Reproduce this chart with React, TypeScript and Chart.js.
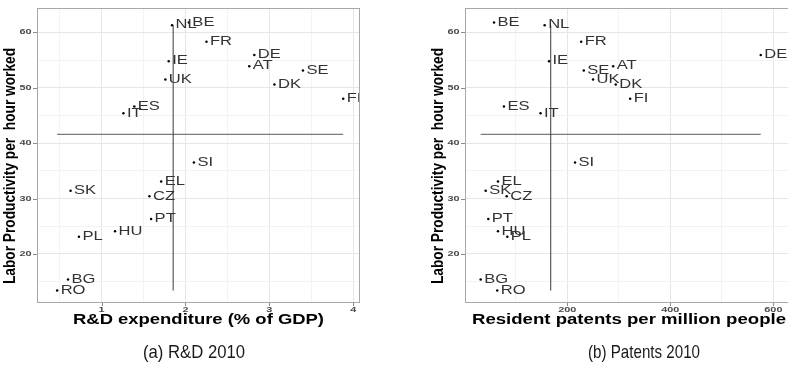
import React, { useEffect, useRef } from "react";
import { Chart, registerables } from "chart.js";

Chart.register(...registerables);

// ---------- data ----------
const countries = ["BE", "NL", "FR", "IE", "UK", "DE", "AT", "SE", "DK", "FI", "ES", "IT", "SI", "EL", "SK", "CZ", "PT", "HU", "PL", "BG", "RO"];
const laborProductivity = [61.8, 61.3, 58.3, 54.8, 51.5, 55.9, 53.9, 53.1, 50.6, 48.0, 46.6, 45.4, 36.5, 33.1, 31.4, 30.4, 26.3, 24.1, 23.1, 15.4, 13.4];
const rdExpenditure = [2.04, 1.84, 2.25, 1.80, 1.76, 2.82, 2.76, 3.40, 3.06, 3.88, 1.39, 1.26, 2.10, 1.71, 0.63, 1.57, 1.59, 1.16, 0.73, 0.60, 0.47];
const residentPatents = [57.7, 156, 227, 164.5, 250, 575.5, 289, 232, 294, 322, 77, 148, 215, 65.4, 41.5, 82.3, 46.6, 65.4, 83.5, 31.8, 64];

const yTickLabels = [20, 30, 40, 50, 60];
const rdTickLabels = [1, 2, 3, 4];
const patentTickLabels = [200, 400, 600];
const yGridValues = [15, 20, 25, 30, 35, 40, 45, 50, 55, 60];
const rdGridValues = [0.5, 1, 1.5, 2, 2.5, 3, 3.5, 4];
const patentGridValues = [100, 200, 300, 400, 500, 600];

const rdAverage = 1.853;
const patentAverage = 167.8;
const productivityAverage = 41.6;
const refLineYSpan = [13.4, 61.3];

const yTitle = "Labor Productivity per  hour worked";
const FONT = '"Liberation Sans", Arial, sans-serif';

type PanelCfg = {
  xValues: number[];
  xMin: number;
  xMax: number;
  xGrid: number[];
  xTicks: number[];
  xAvg: number;
  xTitle: string;
  caption: string;
  canvasLeft: number;
  canvasWidth: number;
  padRight: number;
  yAxisWidth: number;
  xTitleCenter: number;
  xTitleWidth: number;
  yTitleX: number;
  captionCenter: number;
  captionWidth: number;
};

const panels: PanelCfg[] = [
  {
    xValues: rdExpenditure,
    xMin: 0.23,
    xMax: 4.08,
    xGrid: rdGridValues,
    xTicks: rdTickLabels,
    xAvg: rdAverage,
    xTitle: "R&D expenditure (% of GDP)",
    caption: "(a) R&D 2010",
    canvasLeft: 0,
    canvasWidth: 394,
    padRight: 34,
    yAxisWidth: 37,
    xTitleCenter: 198.5,
    xTitleWidth: 251,
    yTitleX: 11,
    captionCenter: 194,
    captionWidth: 102,
  },
  {
    xValues: residentPatents,
    xMin: 1.4,
    xMax: 642,
    xGrid: patentGridValues,
    xTicks: patentTickLabels,
    xAvg: patentAverage,
    xTitle: "Resident patents per million people",
    caption: "(b) Patents 2010",
    canvasLeft: 394,
    canvasWidth: 410,
    padRight: 9,
    yAxisWidth: 71,
    xTitleCenter: 235,
    xTitleWidth: 314,
    yTitleX: 45,
    captionCenter: 250,
    captionWidth: 112,
  },
];

function drawText(
  ctx: CanvasRenderingContext2D,
  text: string,
  x: number,
  y: number,
  font: string,
  color: string,
  align: CanvasTextAlign,
  sx: number,
  sy = 1,
  rotate = 0
) {
  ctx.save();
  ctx.translate(x, y);
  if (rotate) ctx.rotate(rotate);
  ctx.scale(sx, sy);
  ctx.font = font;
  ctx.fillStyle = color;
  ctx.textAlign = align;
  ctx.textBaseline = "middle";
  ctx.fillText(text, 0, 0);
  ctx.restore();
}

function fitScale(ctx: CanvasRenderingContext2D, text: string, font: string, width: number) {
  ctx.save();
  ctx.font = font;
  const w = ctx.measureText(text).width;
  ctx.restore();
  return w > 0 ? width / w : 1;
}

function Panel({ cfg }: { cfg: PanelCfg }) {
  const ref = useRef<HTMLCanvasElement>(null);

  useEffect(() => {
    if (!ref.current) return;
    const points = cfg.xValues.map((x, i) => ({ x, y: laborProductivity[i] }));
    const xLo = Math.min(...cfg.xValues);
    const xHi = Math.max(...cfg.xValues);

    const overlay = {
      id: "overlay",
      afterDatasetsDraw(chart: any) {
        const ctx: CanvasRenderingContext2D = chart.ctx;
        const { left, right, top, bottom } = chart.chartArea;
        ctx.save();
        ctx.beginPath();
        ctx.rect(left, top, right - left, bottom - top);
        ctx.clip();
        const meta = chart.getDatasetMeta(2);
        meta.data.forEach((el: any, i: number) => {
          drawText(ctx, countries[i], el.x + 3.5, el.y, `12px ${FONT}`, "#333333", "left", 1.38);
        });
        ctx.restore();
      },
      afterDraw(chart: any) {
        const ctx: CanvasRenderingContext2D = chart.ctx;
        const { left, right, top, bottom } = chart.chartArea;
        const xs = chart.scales.x;
        const ys = chart.scales.y;
        ctx.save();
        ctx.strokeStyle = "#a8a8a8";
        ctx.lineWidth = 1;
        ctx.strokeRect(left + 0.5, top + 0.5, right - left - 1, bottom - top - 1);
        ctx.strokeStyle = "#8a8a8a";
        ctx.beginPath();
        yTickLabels.forEach((v) => {
          const py = Math.round(ys.getPixelForValue(v)) + 0.5;
          ctx.moveTo(left - 4, py);
          ctx.lineTo(left, py);
        });
        cfg.xTicks.forEach((v) => {
          const px = Math.round(xs.getPixelForValue(v)) + 0.5;
          ctx.moveTo(px, bottom);
          ctx.lineTo(px, bottom + 3);
        });
        ctx.stroke();
        ctx.restore();

        const tickFont = `bold 7.5px ${FONT}`;
        yTickLabels.forEach((v) => {
          drawText(ctx, String(v), left - 5.5, ys.getPixelForValue(v), tickFont, "#4a4a4a", "right", 1.45);
        });
        cfg.xTicks.forEach((v) => {
          drawText(ctx, String(v), xs.getPixelForValue(v), bottom + 7, tickFont, "#4a4a4a", "center", 1.45);
        });

        const xtFont = `bold 14px ${FONT}`;
        const sxT = fitScale(ctx, cfg.xTitle, xtFont, cfg.xTitleWidth);
        drawText(ctx, cfg.xTitle, cfg.xTitleCenter, 320, xtFont, "#000000", "center", sxT);

        const ytFont = `bold 16px ${FONT}`;
        const lenS = fitScale(ctx, yTitle, ytFont, 236);
        drawText(ctx, yTitle, cfg.yTitleX, 166, ytFont, "#000000", "center", lenS, 1, -Math.PI / 2);

        const capFont = `19px ${FONT}`;
        const capS = fitScale(ctx, cfg.caption, capFont, cfg.captionWidth);
        drawText(ctx, cfg.caption, cfg.captionCenter, 353, capFont, "#1a1a1a", "center", capS);
      },
    };

    const gridColor = (values: number[]) => (c: any) => {
      const v = c.tick ? c.tick.value : NaN;
      return values.some((t) => Math.abs(t - v) < 1e-9) ? "#e6e6e6" : "#f3f3f3";
    };

    const chart = new Chart(ref.current, {
      type: "scatter",
      data: {
        datasets: [
          {
            type: "line",
            data: [
              { x: cfg.xAvg, y: refLineYSpan[0] },
              { x: cfg.xAvg, y: refLineYSpan[1] },
            ],
            borderColor: "#3a3a3a",
            borderWidth: 1,
            pointRadius: 0,
            fill: false,
          } as any,
          {
            type: "line",
            data: [
              { x: xLo, y: productivityAverage },
              { x: xHi, y: productivityAverage },
            ],
            borderColor: "#5a5a5a",
            borderWidth: 1,
            pointRadius: 0,
            fill: false,
          } as any,
          {
            data: points,
            pointRadius: 1.25,
            pointHoverRadius: 1.25,
            backgroundColor: "#000000",
            borderWidth: 0,
          },
        ],
      },
      options: {
        responsive: false,
        animation: false,
        devicePixelRatio: 1,
        events: [],
        layout: { padding: { left: 0, top: 8, right: cfg.padRight, bottom: 0 } },
        plugins: { legend: { display: false }, tooltip: { enabled: false } },
        scales: {
          x: {
            type: "linear",
            min: cfg.xMin,
            max: cfg.xMax,
            afterBuildTicks: (s: any) => {
              s.ticks = cfg.xGrid.map((v) => ({ value: v }));
            },
            afterFit: (s: any) => {
              s.height = 75;
            },
            ticks: { display: false },
            grid: { color: gridColor(cfg.xTicks), drawTicks: false, lineWidth: 1 },
            border: { display: false },
          },
          y: {
            type: "linear",
            min: 11.15,
            max: 64.4,
            afterBuildTicks: (s: any) => {
              s.ticks = yGridValues.map((v) => ({ value: v }));
            },
            afterFit: (s: any) => {
              s.width = cfg.yAxisWidth;
            },
            ticks: { display: false },
            grid: { color: gridColor(yTickLabels), drawTicks: false, lineWidth: 1 },
            border: { display: false },
          },
        },
      },
      plugins: [overlay],
    } as any);
    return () => chart.destroy();
  }, [cfg]);

  return (
    <canvas
      ref={ref}
      width={cfg.canvasWidth}
      height={378}
      style={{ position: "absolute", left: cfg.canvasLeft, top: 0, width: cfg.canvasWidth, height: 378 }}
    />
  );
}

export default function App() {
  return (
    <div
      style={{
        position: "fixed",
        left: 0,
        top: 0,
        width: 788,
        height: 378,
        overflow: "hidden",
        background: "#ffffff",
      }}
    >
      {panels.map((p, i) => (
        <Panel key={i} cfg={p} />
      ))}
    </div>
  );
}
